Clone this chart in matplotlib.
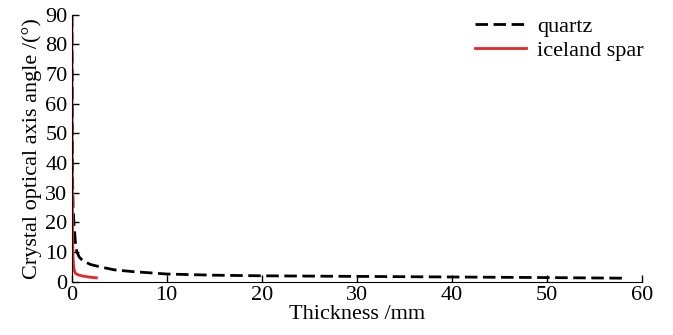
import matplotlib
matplotlib.use("Agg")
import matplotlib.pyplot as plt

quartz_x = [0.03, 0.05, 0.07, 0.1, 0.15, 0.25, 0.4, 0.55, 0.8, 1.2, 2.0, 3.0, 4.5, 6.5, 10, 15, 20, 30, 40, 50, 58]
quartz_y = [90, 70, 50, 33, 25, 19, 13, 10, 8.3, 7.0, 5.8, 5.0, 4.0, 3.4, 2.6, 2.2, 2.0, 1.8, 1.6, 1.4, 1.2]

spar_x = [0.02, 0.04, 0.06, 0.08, 0.1, 0.15, 0.22, 0.35, 0.5, 0.8, 1.2, 1.8, 2.6]
spar_y = [90, 60, 40, 25, 15, 8, 4.5, 3.0, 2.6, 2.2, 1.9, 1.6, 1.3]

xticks = [0, 10, 20, 30, 40, 50, 60]
yticks = [0, 10, 20, 30, 40, 50, 60, 70, 80, 90]

plt.rcParams['font.family'] = ['Liberation Serif', 'DejaVu Serif']
fig = plt.figure(figsize=(6.73, 3.35), dpi=100)
ax = fig.add_axes([0.1065, 0.159, 0.847, 0.797])
ax.plot(quartz_x, quartz_y, color='black', linestyle=(0, (4.5, 2)), linewidth=2, label='quartz')
ax.plot(spar_x, spar_y, color='#e8262a', linewidth=2, label='iceland spar')
ax.set_xlim(0, 60)
ax.set_ylim(0, 90)
ax.set_xticks(xticks)
ax.set_yticks(yticks)
for s in ['top', 'right']:
    ax.spines[s].set_visible(False)
ax.tick_params(direction='in', labelsize=16, length=5, width=1, pad=3)
ax.set_xlabel('Thickness /mm', fontsize=16, labelpad=0)
ax.set_ylabel('Crystal optical axis angle /(°)', fontsize=16, labelpad=2)
ax.legend(loc='upper right', bbox_to_anchor=(1.015, 1.02), frameon=False, fontsize=16,
          handlelength=2.3, handletextpad=0.5, borderaxespad=0.0, borderpad=0.3, labelspacing=0.15)
fig.savefig('out.png', dpi=100)
